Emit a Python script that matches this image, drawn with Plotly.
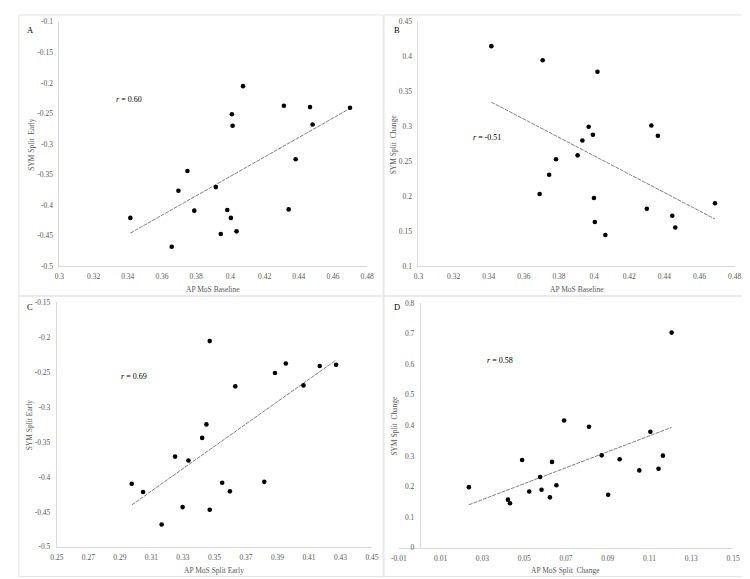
import numpy as np
import plotly.graph_objects as go

W, H = 750, 579

# ---------------- data ----------------
a_x = [0.3415, 0.3657, 0.3696, 0.3749, 0.3789, 0.3915, 0.3944, 0.3982, 0.4003, 0.4009,
       0.4013, 0.4036, 0.4074, 0.4313, 0.4341, 0.4382, 0.4466, 0.4481, 0.4700]
a_y = [-0.4208, -0.4680, -0.3763, -0.3441, -0.4090, -0.3704, -0.4471, -0.4080, -0.4208, -0.2513,
       -0.2700, -0.4428, -0.2052, -0.2373, -0.4069, -0.3248, -0.2395, -0.2679, -0.2406]

b_x = [0.3415, 0.3707, 0.4019, 0.4326, 0.4363, 0.3969, 0.3993, 0.3933, 0.3906, 0.3783,
       0.3744, 0.3690, 0.3999, 0.4004, 0.4064, 0.4300, 0.4445, 0.4462, 0.4688]
b_y = [0.4152, 0.3950, 0.3786, 0.3016, 0.2870, 0.2997, 0.2884, 0.2800, 0.2588, 0.2532,
       0.2311, 0.2034, 0.1978, 0.1635, 0.1447, 0.1823, 0.1724, 0.1555, 0.1903]

c_x = [0.2975, 0.3047, 0.3165, 0.3250, 0.3298, 0.3335, 0.3422, 0.3449, 0.3470, 0.3470,
       0.3549, 0.3598, 0.3632, 0.3816, 0.3884, 0.3953, 0.4065, 0.4168, 0.4272]
c_y = [-0.4097, -0.4215, -0.4680, -0.3708, -0.4431, -0.3764, -0.3440, -0.3247, -0.2054, -0.4469,
       -0.4083, -0.4205, -0.2702, -0.4069, -0.2510, -0.2374, -0.2688, -0.2411, -0.2392]

d_x = [0.0235, 0.0422, 0.0432, 0.0490, 0.0524, 0.0576, 0.0583, 0.0623, 0.0633, 0.0654,
       0.0691, 0.0810, 0.0871, 0.0902, 0.0957, 0.1051, 0.1104, 0.1143, 0.1164, 0.1206]
d_y = [0.1976, 0.1568, 0.1450, 0.2867, 0.1836, 0.2309, 0.1890, 0.1643, 0.2803, 0.2040,
       0.4156, 0.3952, 0.3017, 0.1729, 0.2889, 0.2524, 0.3790, 0.2577, 0.3007, 0.7034]

panel_letters = ["A", "B", "C", "D"]
r_labels = ["0.60", "-0.51", "0.69", "0.58"]
x_titles = ["AP MoS Baseline", "AP MoS Baseline", "AP MoS Split Early", "AP MoS Split  Change"]
y_titles = ["SYM Split  Early", "SYM Split  Change", "SYM Split Early", "SYM Split  Change"]

ab_xticks = [0.3, 0.32, 0.34, 0.36, 0.38, 0.4, 0.42, 0.44, 0.46, 0.48]
ab_xtext = ["0.3", "0.32", "0.34", "0.36", "0.38", "0.4", "0.42", "0.44", "0.46", "0.48"]
c_xticks = [0.25, 0.27, 0.29, 0.31, 0.33, 0.35, 0.37, 0.39, 0.41, 0.43, 0.45]
c_xtext = ["0.25", "0.27", "0.29", "0.31", "0.33", "0.35", "0.37", "0.39", "0.41", "0.43", "0.45"]
d_xticks = [-0.01, 0.01, 0.03, 0.05, 0.07, 0.09, 0.11, 0.13, 0.15]
d_xtext = ["-0.01", "0.01", "0.03", "0.05", "0.07", "0.09", "0.11", "0.13", "0.15"]
a_yticks = [-0.5, -0.45, -0.4, -0.35, -0.3, -0.25, -0.2, -0.15, -0.1]
a_ytext = ["-0.5", "-0.45", "-0.4", "-0.35", "-0.3", "-0.25", "-0.2", "-0.15", "-0.1"]
b_yticks = [0.1, 0.15, 0.2, 0.25, 0.3, 0.35, 0.4, 0.45]
b_ytext = ["0.1", "0.15", "0.2", "0.25", "0.3", "0.35", "0.4", "0.45"]
c_yticks = [-0.5, -0.45, -0.4, -0.35, -0.3, -0.25, -0.2, -0.15]
c_ytext = ["-0.5", "-0.45", "-0.4", "-0.35", "-0.3", "-0.25", "-0.2", "-0.15"]
d_yticks = [0, 0.1, 0.2, 0.3, 0.4, 0.5, 0.6, 0.7, 0.8]
d_ytext = ["0", "0.1", "0.2", "0.3", "0.4", "0.5", "0.6", "0.7", "0.8"]

# ---------------- layout geometry (pixels) ----------------
def px(x):
    return x / W

def py(y):
    return 1 - y / H

# plot areas: (left, right, top, bottom) in px
areas = [
    (44.3, 358.3, 10.0, 258.3),
    (410.7, 733.3, 10.0, 258.3),
    (41.7, 363.3, 295.0, 543.3),
    (390.7, 731.7, 295.7, 544.0),
]
xranges = [[0.3, 0.48], [0.3, 0.48], [0.25, 0.45], [-0.01, 0.15]]
yranges = [[-0.5, -0.1], [0.1, 0.45], [-0.5, -0.15], [0, 0.8]]
xt = [(ab_xticks, ab_xtext), (ab_xticks, ab_xtext), (c_xticks, c_xtext), (d_xticks, d_xtext)]
yt = [(a_yticks, a_ytext), (b_yticks, b_ytext), (c_yticks, c_ytext), (d_yticks, d_ytext)]
datasets = [(a_x, a_y), (b_x, b_y), (c_x, c_y), (d_x, d_y)]

SERIF = "Liberation Serif, Times New Roman, serif"
GREY_TXT = "#595959"
AXIS_COL = "#d9d9d9"
FS = 7.5

fig = go.Figure()
layout = dict(
    width=W, height=H, margin=dict(l=0, r=0, t=0, b=0),
    paper_bgcolor="white", plot_bgcolor="white", showlegend=False,
    font=dict(family=SERIF, size=FS, color=GREY_TXT),
)
annotations = []
shapes = []

for i in range(4):
    n = "" if i == 0 else str(i + 1)
    xs, ys = datasets[i]
    L, R, T, B = areas[i]
    xa = "x" + n
    ya = "y" + n
    # linear trendline from data
    xarr = np.array(xs)
    yarr = np.array(ys)
    k, b0 = np.polyfit(xarr, yarr, 1)
    lx = np.array([xarr.min(), xarr.max()])
    fig.add_trace(go.Scatter(x=lx, y=k * lx + b0, mode="lines", xaxis=xa, yaxis=ya,
                             line=dict(color="#808080", width=1, dash="4px,1px"),
                             hoverinfo="skip"))
    # scatter points
    fig.add_trace(go.Scatter(x=xs, y=ys, mode="markers", xaxis=xa, yaxis=ya,
                             marker=dict(color="black", size=4.6), hoverinfo="x+y"))
    xdict = dict(domain=[px(L), px(R)], range=xranges[i], anchor=ya,
                 tickvals=xt[i][0], ticktext=xt[i][1],
                 showgrid=False, zeroline=False, showline=True, linecolor=AXIS_COL, linewidth=1,
                 ticks="outside", ticklen=3, tickcolor="rgba(0,0,0,0)",
                 tickfont=dict(family=SERIF, size=FS, color=GREY_TXT), fixedrange=True)
    ydict = dict(domain=[py(B), py(T)], range=yranges[i], anchor=xa,
                 tickvals=yt[i][0], ticktext=yt[i][1],
                 showgrid=False, zeroline=False, showline=True, linecolor=AXIS_COL, linewidth=1,
                 ticks="outside", ticklen=4, tickcolor="rgba(0,0,0,0)",
                 tickfont=dict(family=SERIF, size=FS, color=GREY_TXT), fixedrange=True)
    if i == 3:
        # vertical axis crosses at x = 0
        frac = (0 - xranges[i][0]) / (xranges[i][1] - xranges[i][0])
        ydict["anchor"] = "free"
        ydict["position"] = px(L) + frac * (px(R) - px(L))
    layout["xaxis" + n] = xdict
    layout["yaxis" + n] = ydict

# panel borders
borders = [(3, 374.5, 3, 288.5), (375.5, 746.5, 3, 288.5), (3, 374.5, 288.5, 573.5), (375.5, 746.5, 288.5, 573.5)]
for (x0, x1, y0, y1) in borders:
    shapes.append(dict(type="rect", xref="paper", yref="paper",
                       x0=px(x0), x1=px(x1), y0=py(y1), y1=py(y0),
                       line=dict(color="#e3e3e3", width=1), fillcolor="rgba(0,0,0,0)", layer="below"))

# panel letters
letter_pos = [(15, 18), (389, 18), (14, 300), (389, 300)]
for (lx_, ly_), t in zip(letter_pos, panel_letters):
    annotations.append(dict(text=t, x=px(lx_), y=py(ly_), xref="paper", yref="paper",
                            showarrow=False, xanchor="center", yanchor="middle",
                            font=dict(family=SERIF, size=8.5, color="black")))

# r annotations
r_pos = [(115, 89), (481, 127), (120, 370), (494, 354)]
for (rx, ry), t in zip(r_pos, r_labels):
    annotations.append(dict(text="<i>r</i> = " + t, x=px(rx), y=py(ry), xref="paper", yref="paper",
                            showarrow=False, xanchor="center", yanchor="middle",
                            font=dict(family=SERIF, size=8, color="black")))

# axis titles
xtitle_y = [282, 282, 567, 567]
ytitle_x = [15, 385, 14, 386]
for i in range(4):
    L, R, T, B = areas[i]
    annotations.append(dict(text=x_titles[i], x=px((L + R) / 2), y=py(xtitle_y[i]), xref="paper", yref="paper",
                            showarrow=False, xanchor="center", yanchor="middle",
                            font=dict(family=SERIF, size=FS, color=GREY_TXT)))
    annotations.append(dict(text=y_titles[i], x=px(ytitle_x[i]), y=py((T + B) / 2), xref="paper", yref="paper",
                            showarrow=False, xanchor="center", yanchor="middle", textangle=-90,
                            font=dict(family=SERIF, size=FS, color=GREY_TXT)))

layout["annotations"] = annotations
layout["shapes"] = shapes
fig.update_layout(**layout)
fig.write_html("out.html")
